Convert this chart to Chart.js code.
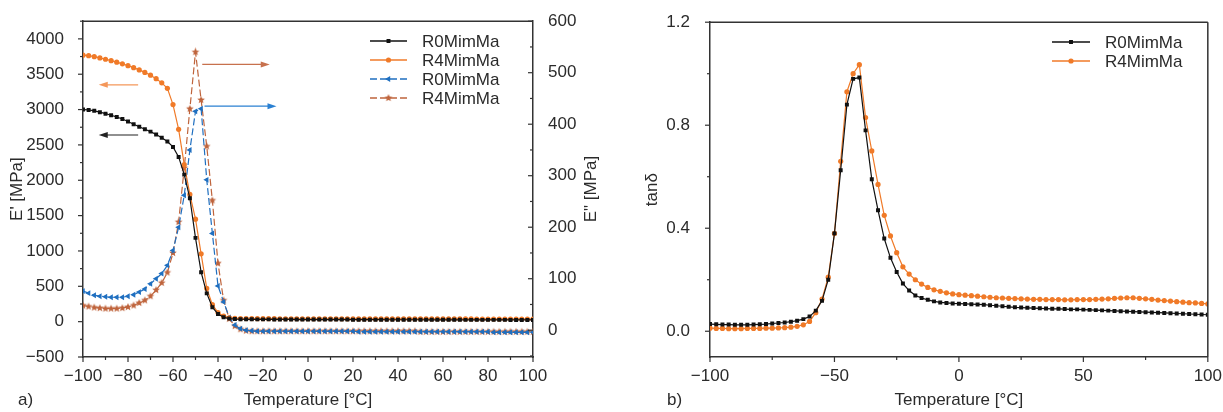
<!DOCTYPE html>
<html>
<head>
<meta charset="utf-8">
<script src="https://cdn.jsdelivr.net/npm/chart.js@4.4.1/dist/chart.umd.min.js"></script>
<style>
body { margin: 0; background: #fff; width: 1223px; height: 412px; position: relative; overflow: hidden; font-family: "Liberation Sans", Arial, sans-serif; }
#wa { position: absolute; left: 0; top: 0; }
#wb { position: absolute; left: 612px; top: 0; }
.panel { position: absolute; top: 390px; font-size: 17px; color: #2b2b2b; }
</style>
</head>
<body>
<div id="wa"><canvas id="ca" width="612" height="412"></canvas></div>
<div id="wb"><canvas id="cb" width="611" height="412"></canvas></div>
<div class="panel" style="left:18px">a)</div>
<div class="panel" style="left:667px">b)</div>
<script>
// temperature grid (°C), shared by all curves
const temps = [-100,-97.5,-95,-92.5,-90,-87.5,-85,-82.5,-80,-77.5,
  -75,-72.5,-70,-67.5,-65,-62.5,-60,-57.5,-55,-52.5,
  -50,-47.5,-45,-42.5,-40,-37.5,-35,-32.5,-30,-27.5,
  -25,-22.5,-20,-17.5,-15,-12.5,-10,-7.5,-5,-2.5,
  0,2.5,5,7.5,10,12.5,15,17.5,20,22.5,
  25,27.5,30,32.5,35,37.5,40,42.5,45,47.5,
  50,52.5,55,57.5,60,62.5,65,67.5,70,72.5,
  75,77.5,80,82.5,85,87.5,90,92.5,95,97.5,100];

// panel a) storage modulus E' [MPa] (left axis)
const ePrimeR0 = [3000,2995,2982,2963,2942,2920,2895,2866,2832,2793,
  2757,2722,2688,2648,2602,2548,2472,2330,2080,1745,
  1185,700,400,205,108,62,44,37,34,33,
  33,32,32,32,31,31,31,31,30,30,
  30,30,30,29,29,29,29,29,28,28,
  28,28,28,28,27,27,27,27,27,27,
  27,26,26,26,26,26,26,26,25,25,
  25,25,25,25,25,25,24,24,24,24,24];
const ePrimeR4 = [3770,3762,3748,3731,3712,3692,3671,3647,3621,3593,
  3561,3526,3486,3437,3378,3300,3070,2720,2220,1800,
  1450,960,470,240,128,78,55,47,44,43,
  43,42,42,42,42,41,41,41,41,41,
  41,40,40,40,40,40,40,40,40,39,
  39,39,39,39,39,39,39,39,39,38,
  38,38,38,38,38,38,38,38,38,38,
  37,37,37,37,37,37,37,37,37,37,37];

// panel a) loss modulus E'' [MPa] (right axis)
const eLossR0 = [76,72,68,66,65,64,64,64,66,69,
  74,80,90,100,110,126,155,200,262,350,
  425,430,292,188,86,55,25,10,3,0,
  -1,-2,-2,-2,-2,-2,-2,-2,-2,-2,
  -2,-2,-2,-2,-2,-2,-2,-2,-2,-3,
  -3,-3,-3,-3,-3,-3,-3,-3,-3,-3,
  -3,-3,-3,-3,-3,-3,-3,-3,-3,-3,
  -3,-3,-3,-4,-4,-4,-4,-4,-4,-4,-4];
const eLossR4 = [48,46,44,43,42,42,42,43,45,48,
  53,58,66,78,92,112,150,210,315,430,
  540,447,357,252,130,58,22,8,2,-1,
  -2,-2,-2,-2,-2,-2,-2,-2,-2,-2,
  -2,-2,-2,-2,-2,-2,-2,-2,-2,-2,
  -2,-2,-2,-2,-2,-2,-2,-2,-2,-2,
  -3,-3,-3,-3,-3,-3,-3,-3,-3,-3,
  -3,-3,-3,-3,-3,-3,-3,-3,-3,-3,-3];

// panel b) tan delta
const tanR0 = [0.028,0.027,0.026,0.026,0.025,0.025,0.025,0.026,0.027,0.028,
  0.030,0.032,0.034,0.037,0.041,0.047,0.057,0.080,0.118,0.200,
  0.380,0.625,0.880,0.980,0.985,0.780,0.590,0.470,0.360,0.285,
  0.230,0.185,0.158,0.139,0.129,0.122,0.116,0.112,0.110,0.108,
  0.107,0.106,0.105,0.104,0.103,0.101,0.099,0.097,0.095,0.093,
  0.092,0.091,0.090,0.089,0.088,0.087,0.087,0.086,0.085,0.085,
  0.084,0.083,0.082,0.081,0.080,0.079,0.078,0.077,0.076,0.075,
  0.074,0.073,0.072,0.071,0.070,0.069,0.068,0.067,0.066,0.065,0.064];
const tanR4 = [0.012,0.011,0.011,0.010,0.010,0.010,0.011,0.011,0.011,0.012,
  0.012,0.013,0.014,0.016,0.019,0.025,0.038,0.072,0.125,0.210,
  0.380,0.660,0.930,1.000,1.035,0.830,0.700,0.570,0.450,0.370,
  0.305,0.250,0.222,0.200,0.183,0.170,0.161,0.155,0.149,0.145,
  0.142,0.140,0.138,0.136,0.134,0.132,0.130,0.129,0.128,0.127,
  0.126,0.125,0.124,0.124,0.123,0.123,0.123,0.122,0.122,0.123,
  0.123,0.123,0.124,0.125,0.126,0.128,0.129,0.130,0.130,0.128,
  0.126,0.124,0.121,0.119,0.117,0.115,0.113,0.111,0.110,0.108,0.106];

// tick values
const ticksXA = [-100,-80,-60,-40,-20,0,20,40,60,80,100];
const ticksYA = [-500,0,500,1000,1500,2000,2500,3000,3500,4000];
const ticksY2A = [0,100,200,300,400,500,600];
const ticksXB = [-100,-50,0,50,100];
const ticksYB = [0,0.4,0.8,1.2];

const col = { black: '#111111', orange: '#f07a28', blue: '#1f6fc0', brown: '#bf643c' };

function pts(arr) {
  return temps.map((t, i) => ({ x: t, y: arr[i] }));
}
function minus(v) {
  return v < 0 ? '\u2212' + (-v) : '' + v;
}
function starCanvas(color, r) {
  const c = document.createElement('canvas');
  const s = Math.ceil(r * 2 + 2);
  c.width = c.height = s;
  const g = c.getContext('2d');
  g.fillStyle = color;
  g.beginPath();
  for (let i = 0; i < 10; i++) {
    const rad = i % 2 ? r * 0.45 : r;
    const a = -Math.PI / 2 + i * Math.PI / 5;
    g.lineTo(s / 2 + rad * Math.cos(a), s / 2 + rad * Math.sin(a));
  }
  g.closePath();
  g.fill();
  return c;
}
const star = starCanvas(col.brown, 4);

Chart.defaults.font.family = '"Liberation Sans", Arial, sans-serif';
Chart.defaults.font.size = 17;
Chart.defaults.color = '#2b2b2b';

// box line, major/minor tick marks, side title
const boxTicks = {
  id: 'boxTicks',
  afterDraw(chart, args, opts) {
    const ctx = chart.ctx, a = chart.chartArea;
    ctx.save();
    ctx.strokeStyle = '#333';
    ctx.lineWidth = 1.5;
    ctx.beginPath();
    ctx.moveTo(a.left, a.top);
    ctx.lineTo(a.right, a.top);
    if (opts.rightLine) {
      ctx.moveTo(a.right, a.top);
      ctx.lineTo(a.right, a.bottom);
    }
    ctx.stroke();
    ctx.lineWidth = 1.2;
    opts.marks.forEach(t => {
      const s = chart.scales[t.id];
      const i0 = Math.ceil(s.min / t.minor - 1e-6), i1 = Math.floor(s.max / t.minor + 1e-6);
      for (let i = i0; i <= i1; i++) {
        const v = i * t.minor;
        const r = v / t.major;
        const len = Math.abs(r - Math.round(r)) < 1e-6 ? 5 : 3;
        const p = s.getPixelForValue(v);
        ctx.beginPath();
        if (s.position === 'bottom') {
          ctx.moveTo(p, a.bottom); ctx.lineTo(p, a.bottom + len);
        } else if (s.position === 'left') {
          ctx.moveTo(a.left, p); ctx.lineTo(a.left - len, p);
        } else {
          ctx.moveTo(a.right, p); ctx.lineTo(a.right - len, p);
        }
        ctx.stroke();
      }
    });
    if (opts.sideTitle) {
      ctx.fillStyle = '#2b2b2b';
      ctx.font = '17px "Liberation Sans", Arial, sans-serif';
      ctx.textAlign = 'center';
      ctx.textBaseline = 'middle';
      ctx.translate(opts.sideTitle.x, (a.top + a.bottom) / 2);
      ctx.rotate(-Math.PI / 2);
      ctx.fillText(opts.sideTitle.text, 0, 0);
    }
    ctx.restore();
  }
};

// legend with line + marker, drawn inside the plot
const legendBox = {
  id: 'legendBox',
  afterDraw(chart, args, opts) {
    const ctx = chart.ctx;
    chart.data.datasets.forEach((ds, i) => {
      const y = opts.y + i * opts.gap;
      ctx.save();
      ctx.strokeStyle = ds.borderColor;
      ctx.lineWidth = 1.3;
      ctx.setLineDash(ds.borderDash || []);
      ctx.beginPath();
      ctx.moveTo(opts.x, y);
      ctx.lineTo(opts.x + opts.len, y);
      ctx.stroke();
      ctx.setLineDash([]);
      ctx.fillStyle = ds.pointBackgroundColor;
      ctx.strokeStyle = ds.pointBackgroundColor;
      Chart.helpers.drawPoint(ctx, {
        pointStyle: ds.pointStyle, rotation: ds.pointRotation || 0,
        radius: ds.pointRadius, borderWidth: 0
      }, opts.x + opts.len / 2, y);
      ctx.fillStyle = '#2b2b2b';
      ctx.font = '17px "Liberation Sans", Arial, sans-serif';
      ctx.textAlign = 'left';
      ctx.textBaseline = 'middle';
      ctx.fillText(ds.label, opts.x + opts.len + 15, y + 1);
      ctx.restore();
    });
  }
};

// arrows telling which axis a curve belongs to
const arrows = {
  id: 'arrows',
  afterDatasetsDraw(chart, args, opts) {
    const ctx = chart.ctx;
    (opts.items || []).forEach(a => {
      const xs = chart.scales.x, ys = chart.scales[a.axis];
      const x1 = xs.getPixelForValue(a.from), x2 = xs.getPixelForValue(a.to);
      const y = ys.getPixelForValue(a.at);
      const d = x2 > x1 ? 1 : -1;
      ctx.save();
      ctx.strokeStyle = a.color;
      ctx.fillStyle = a.color;
      ctx.lineWidth = 1.2;
      ctx.beginPath();
      ctx.moveTo(x1, y);
      ctx.lineTo(x2 - d * 6, y);
      ctx.stroke();
      ctx.beginPath();
      ctx.moveTo(x2, y);
      ctx.lineTo(x2 - d * 9, y - 3);
      ctx.lineTo(x2 - d * 9, y + 3);
      ctx.closePath();
      ctx.fill();
      ctx.restore();
    });
  }
};

function setTicks(list) {
  return s => { s.ticks = list.map(v => ({ value: v })); };
}
const axisBorder = { color: '#333', width: 1.5 };

new Chart(document.getElementById('ca'), {
  type: 'line',
  data: {
    datasets: [
      { label: 'R0MimMa', data: pts(ePrimeR0), yAxisID: 'y', borderColor: col.black,
        pointBackgroundColor: col.black, pointStyle: 'rect', pointRadius: 2.8, pointBorderWidth: 0, borderWidth: 1.2 },
      { label: 'R4MimMa', data: pts(ePrimeR4), yAxisID: 'y', borderColor: col.orange,
        pointBackgroundColor: col.orange, pointStyle: 'circle', pointRadius: 2.6, pointBorderWidth: 0, borderWidth: 1.2 },
      { label: 'R0MimMa', data: pts(eLossR0), yAxisID: 'y2', borderColor: col.blue, borderDash: [7, 3],
        pointBackgroundColor: col.blue, pointStyle: 'triangle', pointRotation: -90, pointRadius: 3.4, pointBorderWidth: 0, borderWidth: 1.2 },
      { label: 'R4MimMa', data: pts(eLossR4), yAxisID: 'y2', borderColor: col.brown, borderDash: [7, 3],
        pointBackgroundColor: col.brown, pointStyle: star, pointRadius: 4, pointBorderWidth: 0, borderWidth: 1.2 }
    ]
  },
  options: {
    responsive: false,
    animation: false,
    layout: { padding: { top: 21 } },
    plugins: {
      legend: { display: false },
      tooltip: { enabled: false },
      legendBox: { x: 370, y: 41, gap: 19, len: 37 },
      boxTicks: {
        marks: [{ id: 'x', major: 20, minor: 10 }, { id: 'y', major: 500, minor: 250 }, { id: 'y2', major: 100, minor: 50 }],
        sideTitle: { text: 'E" [MPa]', x: 591 }
      },
      arrows: {
        items: [
          { from: -75.5, to: -93, at: 2640, axis: 'y', color: '#222' },
          { from: -75.5, to: -93, at: 3350, axis: 'y', color: '#f4975a' },
          { from: -47, to: -17, at: 516, axis: 'y2', color: '#c7714d' },
          { from: -46, to: -14, at: 435, axis: 'y2', color: '#2a80d2' }
        ]
      }
    },
    scales: {
      x: {
        type: 'linear', min: -100, max: 100,
        afterBuildTicks: setTicks(ticksXA),
        afterFit: s => { s.height = 55; },
        grid: { display: false },
        border: axisBorder,
        ticks: { callback: minus, padding: 1, maxRotation: 0, autoSkip: false },
        title: { display: true, text: 'Temperature [°C]', padding: { top: 0, bottom: 1 } }
      },
      y: {
        position: 'left', min: -500, max: 4250,
        afterBuildTicks: setTicks(ticksYA),
        afterFit: s => { s.width = 83; },
        grid: { display: false },
        border: axisBorder,
        ticks: { callback: minus, padding: 11 },
        title: { display: true, text: "E' [MPa]", padding: { top: 7, bottom: 0 } }
      },
      y2: {
        position: 'right', min: -52, max: 600,
        afterBuildTicks: setTicks(ticksY2A),
        afterFit: s => { s.width = 79; },
        grid: { display: false },
        border: axisBorder,
        ticks: { callback: minus, padding: 7 }
      }
    }
  },
  plugins: [legendBox, boxTicks, arrows]
});

new Chart(document.getElementById('cb'), {
  type: 'line',
  data: {
    datasets: [
      { label: 'R0MimMa', data: pts(tanR0), borderColor: col.black,
        pointBackgroundColor: col.black, pointStyle: 'rect', pointRadius: 2.8, pointBorderWidth: 0, borderWidth: 1.2 },
      { label: 'R4MimMa', data: pts(tanR4), borderColor: col.orange,
        pointBackgroundColor: col.orange, pointStyle: 'circle', pointRadius: 2.6, pointBorderWidth: 0, borderWidth: 1.2 }
    ]
  },
  options: {
    responsive: false,
    animation: false,
    layout: { padding: { top: 21, right: 13 } },
    plugins: {
      legend: { display: false },
      tooltip: { enabled: false },
      legendBox: { x: 440, y: 42, gap: 19, len: 38 },
      boxTicks: {
        rightLine: true,
        marks: [{ id: 'x', major: 50, minor: 25 }, { id: 'y', major: 0.4, minor: 0.2 }]
      }
    },
    scales: {
      x: {
        type: 'linear', min: -100, max: 100,
        afterBuildTicks: setTicks(ticksXB),
        afterFit: s => { s.height = 55; },
        grid: { display: false },
        border: axisBorder,
        ticks: { callback: minus, padding: 1, maxRotation: 0, autoSkip: false },
        title: { display: true, text: 'Temperature [°C]', padding: { top: 0, bottom: 1 } }
      },
      y: {
        position: 'left', min: -0.1, max: 1.2,
        afterBuildTicks: setTicks(ticksYB),
        afterFit: s => { s.width = 98; },
        grid: { display: false },
        border: axisBorder,
        ticks: { callback: v => v.toFixed(1), padding: 12 },
        title: { display: true, text: 'tanδ', padding: { top: 30, bottom: 0 } }
      }
    }
  },
  plugins: [legendBox, boxTicks]
});
</script>
</body>
</html>
